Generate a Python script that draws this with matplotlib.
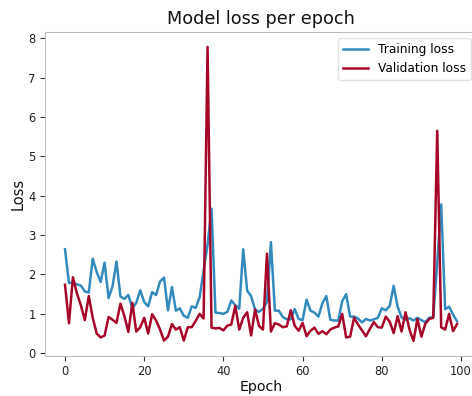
import numpy as np
import matplotlib
matplotlib.use("Agg")
import matplotlib.pyplot as plt

# loss values, one per epoch
training_loss = [2.64, 1.78, 1.80, 1.75, 1.72, 1.57, 1.54, 2.40, 2.06, 1.81,
                 2.30, 1.40, 1.70, 2.33, 1.44, 1.38, 1.48, 1.14, 1.28, 1.60,
                 1.30, 1.19, 1.55, 1.48, 1.82, 1.92, 1.09, 1.68, 1.08, 1.14,
                 0.95, 0.90, 1.19, 1.15, 1.42, 2.10, 2.75, 3.67, 1.03, 1.02,
                 1.00, 1.05, 1.34, 1.22, 1.13, 2.64, 1.59, 1.45, 1.11, 1.05,
                 1.13, 1.30, 2.82, 1.08, 1.08, 0.92, 0.86, 0.86, 1.12, 0.87,
                 0.84, 1.36, 1.08, 1.03, 0.93, 1.27, 1.45, 0.85, 0.83, 0.83,
                 1.32, 1.50, 0.93, 0.93, 0.88, 0.78, 0.87, 0.83, 0.86, 0.90,
                 1.14, 1.09, 1.20, 1.71, 1.18, 0.91, 0.85, 0.89, 0.83, 0.90,
                 0.84, 0.79, 0.90, 0.92, 2.30, 3.78, 1.12, 1.18, 0.98, 0.81]

validation_loss = [1.74, 0.76, 1.93, 1.52, 1.22, 0.84, 1.45, 0.90, 0.50, 0.40,
                   0.45, 0.92, 0.85, 0.77, 1.26, 0.94, 0.54, 1.28, 0.55, 0.66,
                   0.90, 0.50, 0.99, 0.83, 0.60, 0.32, 0.42, 0.74, 0.60, 0.66,
                   0.32, 0.66, 0.66, 0.82, 1.00, 0.88, 7.78, 0.65, 0.63, 0.64,
                   0.58, 0.70, 0.73, 1.20, 0.60, 0.90, 1.04, 0.45, 1.11, 0.69,
                   0.60, 2.53, 0.55, 0.76, 0.73, 0.66, 0.68, 1.09, 0.70, 0.57,
                   0.77, 0.43, 0.57, 0.65, 0.49, 0.56, 0.48, 0.60, 0.65, 0.68,
                   1.00, 0.40, 0.42, 0.90, 0.73, 0.58, 0.43, 0.62, 0.79, 0.66,
                   0.65, 0.93, 0.80, 0.51, 0.94, 0.55, 1.04, 0.60, 0.31, 0.87,
                   0.42, 0.75, 0.87, 0.90, 5.65, 0.66, 0.60, 1.00, 0.56, 0.74]

epochs = np.arange(len(training_loss))

fig = plt.figure(figsize=(4.72, 3.96), dpi=100)
# axes runs a little past the right edge, like the reference
ax = fig.add_axes([0.0962, 0.1018, 0.9136, 0.8167])

ax.plot(epochs, training_loss, color='#348ABD', lw=1.8, label='Training loss')
ax.plot(epochs, validation_loss, color='#A60628', lw=1.8, label='Validation loss')

for side in ['left', 'bottom', 'top', 'right']:
    ax.spines[side].set_color('#bcbcbc')
ax.tick_params(axis='both', labelsize=8.3, length=3.5, width=0.8,
               color='#333333', labelcolor='#222222', top=False, right=False)
ax.set_xticks([0, 20, 40, 60, 80, 100])

ax.set_title('Model loss per epoch', fontsize=12.7, color='#111111')
ax.set_xlabel('Epoch', fontsize=10.2, color='#111111', labelpad=1.5)
ax.set_ylabel('Loss', fontsize=10.5, color='#111111', labelpad=2)

leg = ax.legend(loc='upper right', fontsize=8.8)
leg.get_frame().set_edgecolor('#dddddd')

fig.savefig('out.png', dpi=100)
